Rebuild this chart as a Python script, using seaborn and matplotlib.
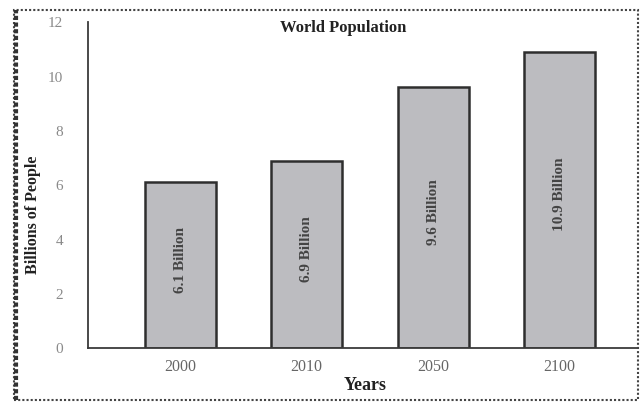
import matplotlib
matplotlib.use("Agg")
import matplotlib.pyplot as plt
from matplotlib.patches import Rectangle
import seaborn as sns
import pandas as pd

years = ["2000", "2010", "2050", "2100"]
population = [6.1, 6.9, 9.6, 10.9]
bar_labels = ["6.1 Billion", "6.9 Billion", "9.6 Billion", "10.9 Billion"]
y_ticks = [0, 2, 4, 6, 8, 10, 12]

sns.set_style("white")
plt.rcParams["font.family"] = ["Liberation Serif", "DejaVu Serif"]

df = pd.DataFrame({"Years": years, "Billions": population})

fig = plt.figure(figsize=(6.43, 4.03), dpi=100)
ax = fig.add_axes([0.137, 0.136, 0.855, 0.809])

sns.barplot(data=df, x="Years", y="Billions", ax=ax, color="#bcbcc0",
            width=0.56, edgecolor="#2e2e2e", linewidth=1.8, saturation=1)

ax.set_ylim(0, 12)
ax.set_xlim(-0.73, 3.62)
ax.set_yticks(y_ticks)
ax.set_yticklabels([str(t) for t in y_ticks], color="#8a8a8a", fontsize=11)
ax.tick_params(axis="y", direction="out", length=4, width=1, color="#555555", pad=14)
ax.tick_params(axis="x", length=0, pad=8, labelsize=11.5, labelcolor="#666666")

for s in ("top", "right"):
    ax.spines[s].set_visible(False)
ax.spines["left"].set_color("#3a3a3a")
ax.spines["left"].set_linewidth(1.3)
ax.spines["bottom"].set_color("#3a3a3a")
ax.spines["bottom"].set_linewidth(1.3)

ax.set_xlabel("")
ax.set_ylabel("")

for i, (v, lab) in enumerate(zip(population, bar_labels)):
    ax.text(i, v * 0.5 + 0.2, lab, rotation=90, ha="center", va="center",
            fontsize=11, fontweight="semibold", color="#444444",
            fontstretch="condensed")

fig.text(343 / 643, 1 - 28 / 403, "World Population", ha="center", va="center",
         fontsize=12, fontweight="bold", color="#222222")
fig.text(365 / 643, 1 - 386 / 403, "Years", ha="center", va="center",
         fontsize=13, fontweight="bold", color="#222222")
fig.text(33 / 643, 1 - 215 / 403, "Billions of People", ha="center", va="center",
         rotation=90, fontsize=11.5, fontweight="bold", color="#222222")

# dotted frame around the whole chart
fig.patches.append(Rectangle((14 / 643, 3 / 403), 624 / 643, 390 / 403,
                             transform=fig.transFigure, fill=False,
                             edgecolor="#444444", linestyle=(0, (1, 1)),
                             linewidth=1.5))
fig.lines.append(plt.Line2D([16 / 643, 16 / 643], [3 / 403, 393 / 403],
                            transform=fig.transFigure, color="#333333",
                            linestyle=(0, (1, 0.6)), linewidth=3))

fig.savefig("out.png", dpi=100, facecolor="white")
